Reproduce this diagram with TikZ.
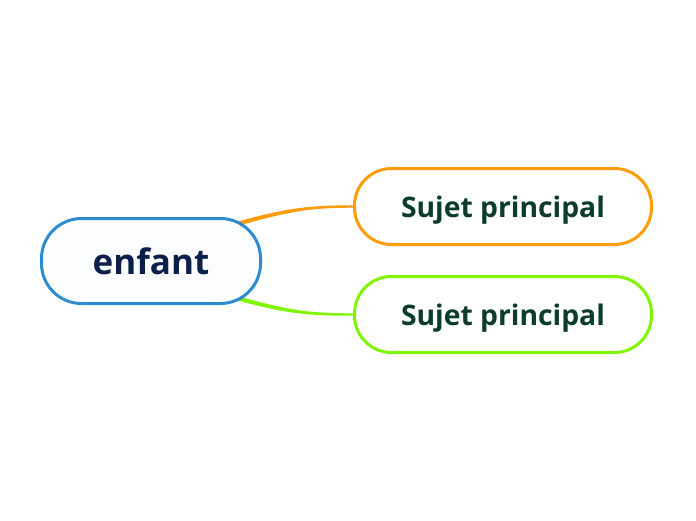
\documentclass[tikz,border=0pt]{standalone}
\usepackage{fontspec}
\setmainfont{Open Sans}
\usetikzlibrary{calc,backgrounds}
\definecolor{cblue}{HTML}{2E8BD0}
\definecolor{corange}{HTML}{FF9C0A}
\definecolor{cgreen}{HTML}{80F500}
\definecolor{tnavy}{HTML}{0B1F4B}
\definecolor{tgreen}{HTML}{0C3D2B}
\definecolor{cfill}{HTML}{FBFDFE}
\tikzset{
  central/.style={draw=cblue, line width=3pt, fill=cfill, rounded corners=40pt,
    minimum width=219pt, minimum height=85pt, inner sep=0pt,
    text=tnavy, font=\bfseries\fontsize{35}{40}\selectfont},
  topic/.style={line width=3pt, fill=white, rounded corners=37pt,
    minimum width=297pt, minimum height=76pt, inner sep=0pt, text depth=0pt,
    text=tgreen, font=\bfseries\fontsize{28.3}{32}\selectfont}
}
\begin{document}
\begin{tikzpicture}[x=1pt,y=-1pt]
\useasboundingbox (0,0) rectangle (696,520);
\node[central] (c) at (151,261) {enfant};
\node[topic, draw=corange] (o) at (503,206.5) {Sujet principal};
\node[topic, draw=cgreen] (g) at (503,314.5) {Sujet principal};
\begin{scope}[on background layer]
\fill[corange] ($(c.north east)+(-26,5)$) .. controls ($(c.north east)+(25,-9)$) and ($(o.west)+(-45,-1.2)$) .. ($(o.west)+(0,-1.2)$)
  -- ($(o.west)+(0,1.2)$) .. controls ($(o.west)+(-45,1.2)$) and ($(c.north east)+(26,-5)$) .. ($(c.north east)+(-21,8)$) -- cycle;
\fill[cgreen] ($(c.south east)+(-26,-5)$) .. controls ($(c.south east)+(25,9)$) and ($(g.west)+(-45,1.2)$) .. ($(g.west)+(0,1.2)$)
  -- ($(g.west)+(0,-1.2)$) .. controls ($(g.west)+(-45,-1.2)$) and ($(c.south east)+(26,5)$) .. ($(c.south east)+(-21,-8)$) -- cycle;
\end{scope}
\end{tikzpicture}
\end{document}
